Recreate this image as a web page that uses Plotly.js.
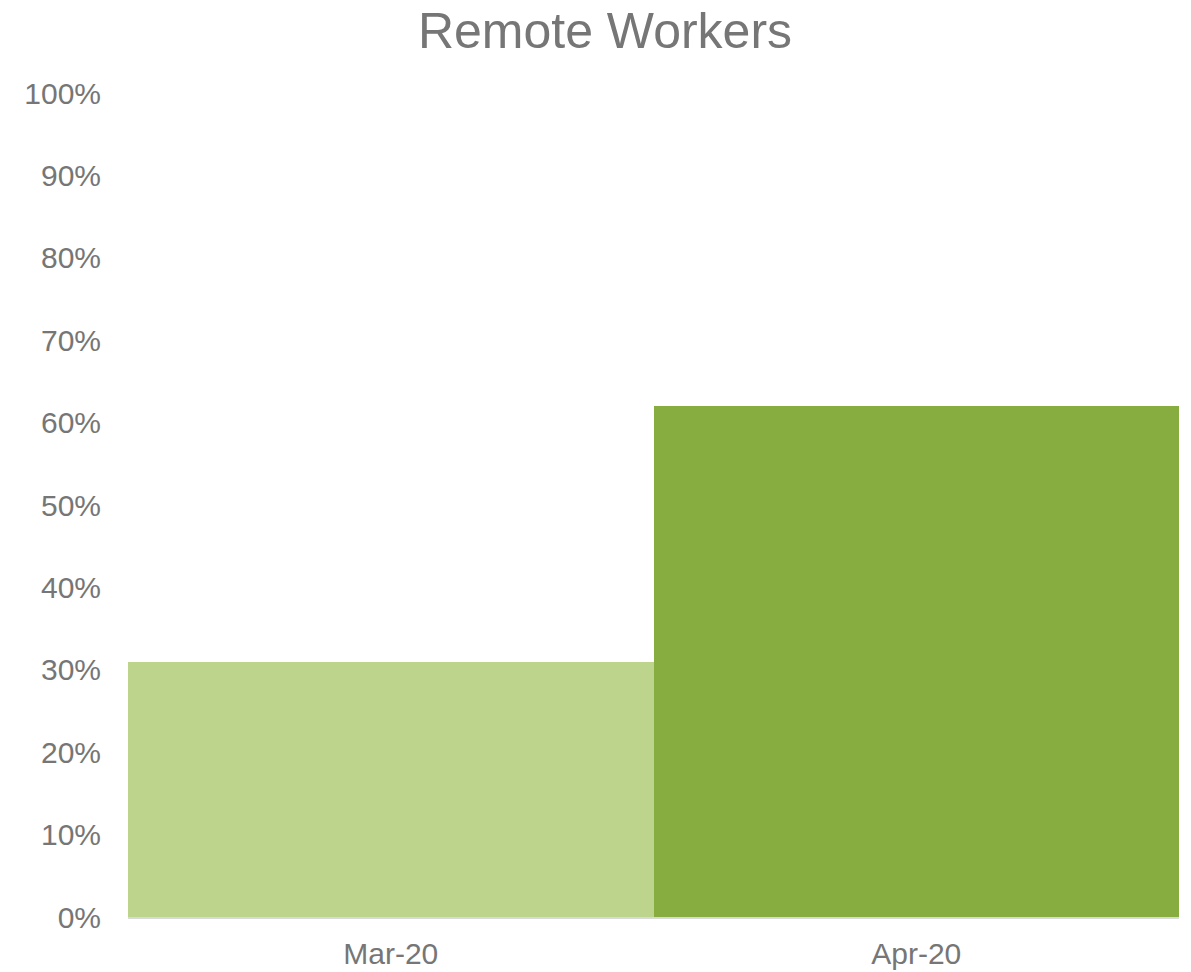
<!DOCTYPE html>
<html>
<head>
<meta charset="utf-8">
<script src="https://cdn.plot.ly/plotly-3.0.1.min.js"></script>
<style>html,body{margin:0;padding:0;background:#fff;}#chart{width:1191px;height:972px;}</style>
</head>
<body>
<div id="chart"></div>
<script>
var categories = ["Mar-20", "Apr-20"];
var remoteShare = [0.31, 0.62];
var yTickValues = [0, 0.1, 0.2, 0.3, 0.4, 0.5, 0.6, 0.7, 0.8, 0.9, 1.0];

var barColors = ["#BDD48C", "#87AC40"];
var textColor = "#767676";
var font = "Liberation Sans, Arial, sans-serif";

var trace = {
  type: "bar",
  x: categories,
  y: remoteShare,
  marker: {color: barColors, line: {width: 0}},
  hoverinfo: "x+y"
};

var layout = {
  width: 1191,
  height: 972,
  paper_bgcolor: "#ffffff",
  plot_bgcolor: "#ffffff",
  margin: {l: 128, r: 12, t: 93, b: 55},
  bargap: 0,
  showlegend: false,
  title: {
    text: "Remote Workers",
    font: {family: font, size: 50, color: textColor},
    x: 605 / 1191, xanchor: "center",
    xref: "container",
    y: 1 - 30 / 972, yref: "container", yanchor: "middle"
  },
  xaxis: {
    type: "category",
    showgrid: false,
    zeroline: false,
    showline: true,
    linecolor: "#D9D9D9",
    linewidth: 2,
    ticks: "",
    tickfont: {family: font, size: 30, color: textColor},
    ticklabelstandoff: 9
  },
  yaxis: {
    range: [0, 1],
    tickvals: yTickValues,
    tickformat: ".0%",
    showgrid: false,
    zeroline: false,
    showline: false,
    ticks: "",
    tickfont: {family: font, size: 30, color: textColor},
    ticklabelstandoff: 26
  }
};

Plotly.newPlot("chart", [trace], layout, {displayModeBar: false, staticPlot: true});
</script>
</body>
</html>
